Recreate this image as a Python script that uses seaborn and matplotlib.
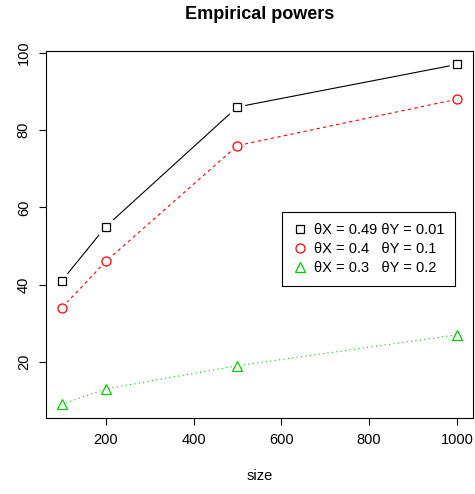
import numpy as np
import pandas as pd
import matplotlib
matplotlib.use("Agg")
import matplotlib.pyplot as plt
import seaborn as sns

# data
sizes = [100, 200, 500, 1000]
power_049_001 = [41, 55, 86, 97]
power_04_01 = [34, 46, 76, 88]
power_03_02 = [9, 13, 19, 27]
labels = ["θX = 0.49 θY = 0.01", "θX = 0.4   θY = 0.1", "θX = 0.3   θY = 0.2"]

sns.set_style("white")
plt.rcParams['font.family'] = ['Liberation Sans', 'DejaVu Sans']
plt.rcParams['text.color'] = 'black'
plt.rcParams['xtick.color'] = 'black'
plt.rcParams['ytick.color'] = 'black'
plt.rcParams['axes.labelcolor'] = 'black'

fig = plt.figure(figsize=(4.75, 4.94), dpi=100)
ax = fig.add_axes([0.097, 0.154, 0.898, 0.743])

series = [power_049_001, power_04_01, power_03_02]
colors = ["black", "red", "#00cc00"]
markers = ["s", "o", "^"]
msizes = [6, 6.5, 7]
dashes = ["-", (0, (3, 3)), (0, (1, 3))]

for vals, col, mk, ms, ls, lab in zip(series, colors, markers, msizes, dashes, labels):
    df = pd.DataFrame({"size": sizes, "power": vals})
    sns.lineplot(data=df, x="size", y="power", ax=ax, color=col, linewidth=0.8,
                 linestyle=ls, label=lab, legend=False)
    # white halo so the line stops short of the symbol, like base R
    ax.plot(df["size"], df["power"], linestyle="none", marker=mk, markersize=ms + 4,
            markerfacecolor="white", markeredgecolor="white", zorder=3)
    ax.plot(df["size"], df["power"], linestyle="none", marker=mk, markersize=ms,
            markerfacecolor="none", markeredgecolor=col, markeredgewidth=0.9, zorder=4)

ax.set_xlim(64, 1036)
ax.set_ylim(5.48, 100.52)
ax.set_xticks([200, 400, 600, 800, 1000])
ax.set_yticks([20, 40, 60, 80, 100])
ax.tick_params(axis="both", direction="out", length=5, width=0.8, labelsize=10.5,
               bottom=True, left=True, pad=6)
plt.setp(ax.get_yticklabels(), rotation=90, va="center")
for s in ax.spines.values():
    s.set_color("black")
    s.set_linewidth(0.8)

ax.set_xlabel("size", fontsize=10.5, labelpad=16)
ax.set_ylabel("")
ax.set_title("Empirical powers", fontsize=13, fontweight="bold", pad=23)

handles = [plt.Line2D([], [], linestyle="none", marker=m, markersize=ms,
                      markerfacecolor="none", markeredgecolor=c, markeredgewidth=0.9)
           for m, c, ms in zip(markers, colors, msizes)]
leg = ax.legend(handles, labels, loc="upper left", bbox_to_anchor=(0.553, 0.561),
                fontsize=10.5, frameon=True, fancybox=False, framealpha=1,
                edgecolor="black", handlelength=1.0, handletextpad=0.45,
                labelspacing=0.35, borderpad=0.75, borderaxespad=0)
leg.get_frame().set_linewidth(0.8)

fig.savefig("out.png", dpi=100)
